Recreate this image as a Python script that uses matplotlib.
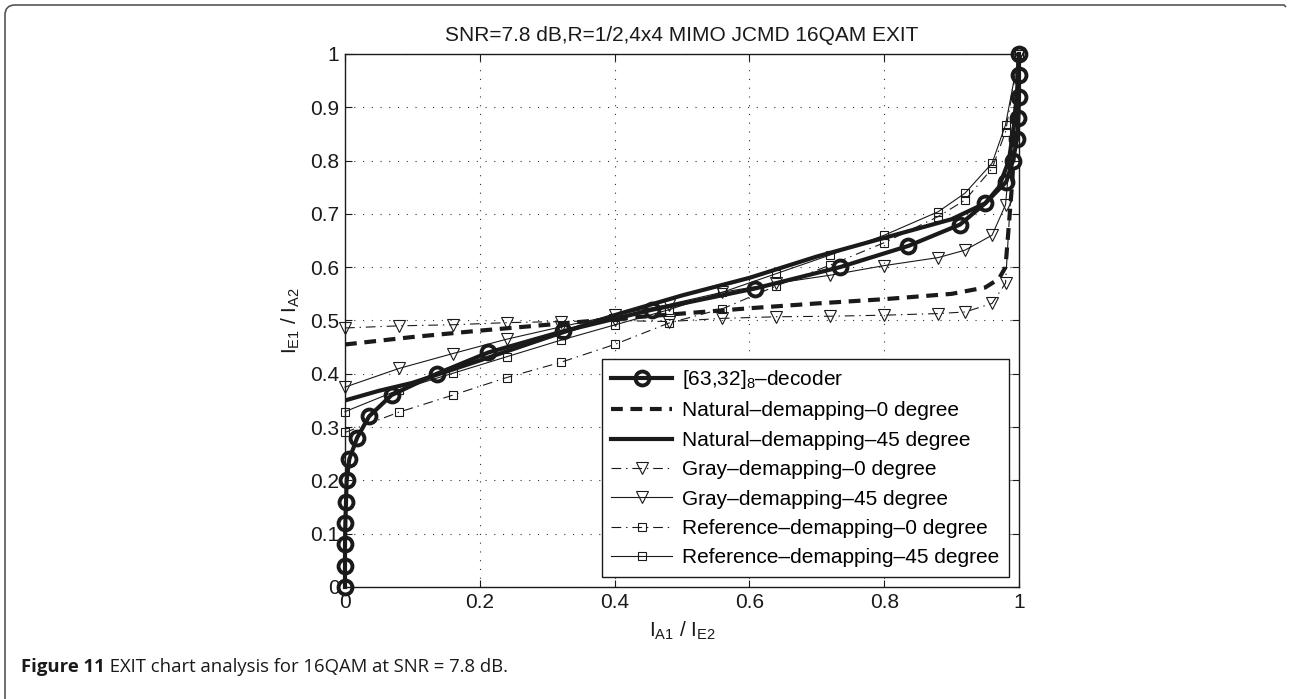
import matplotlib
matplotlib.use("Agg")
import matplotlib.pyplot as plt
from matplotlib.path import Path
from matplotlib.patches import PathPatch

# ---------------- data ----------------
title = "SNR=7.8 dB,R=1/2,4x4 MIMO JCMD 16QAM EXIT"
xticks = [0, 0.2, 0.4, 0.6, 0.8, 1]
xticklabels = ["0", "0.2", "0.4", "0.6", "0.8", "1"]
yticks = [0, 0.1, 0.2, 0.3, 0.4, 0.5, 0.6, 0.7, 0.8, 0.9, 1]
yticklabels = ["0", "0.1", "0.2", "0.3", "0.4", "0.5", "0.6", "0.7", "0.8", "0.9", "1"]

dec_y = [0, 0.04, 0.08, 0.12, 0.16, 0.20, 0.24, 0.28, 0.32, 0.36, 0.40, 0.44, 0.48,
         0.52, 0.56, 0.60, 0.64, 0.68, 0.72, 0.76, 0.80, 0.84, 0.88, 0.92, 0.96, 1.0]
dec_x = [0, 0, 0, 0.0005, 0.0015, 0.0025, 0.0064, 0.018, 0.0356, 0.069, 0.136, 0.2126, 0.324,
         0.455, 0.608, 0.734, 0.836, 0.9125, 0.95, 0.981, 0.991, 0.997, 0.999, 1.0, 1.0, 1.0]

nat0_x = [0, 0.1, 0.2, 0.3, 0.4, 0.5, 0.6, 0.7, 0.8, 0.9, 0.95, 0.97, 0.98, 0.985, 0.99, 1.0]
nat0_y = [0.455, 0.469, 0.481, 0.492, 0.503, 0.513, 0.523, 0.532, 0.540, 0.550, 0.562, 0.578,
          0.600, 0.680, 0.760, 1.0]

nat45_x = [0, 0.05, 0.1, 0.2, 0.3, 0.4, 0.5, 0.6, 0.7, 0.8, 0.9, 0.95, 0.97, 0.985, 0.993, 0.998, 1.0]
nat45_y = [0.35, 0.368, 0.383, 0.425, 0.468, 0.51, 0.547, 0.58, 0.62, 0.655, 0.69, 0.72, 0.75,
           0.80, 0.87, 0.94, 1.0]

gray_x = [0, 0.08, 0.16, 0.24, 0.32, 0.40, 0.48, 0.56, 0.64, 0.72, 0.80, 0.88, 0.92, 0.96, 0.98, 1.0]
gray0_y = [0.486, 0.49, 0.492, 0.496, 0.498, 0.50, 0.498, 0.504, 0.507, 0.508, 0.51, 0.513,
           0.516, 0.532, 0.57, 1.0]
gray45_y = [0.375, 0.41, 0.438, 0.465, 0.488, 0.51, 0.53, 0.553, 0.57, 0.585, 0.603, 0.618,
            0.632, 0.66, 0.717, 1.0]

ref_x = [0, 0.08, 0.16, 0.24, 0.32, 0.40, 0.48, 0.56, 0.64, 0.72, 0.80, 0.88, 0.92, 0.96, 0.98, 1.0]
ref0_y = [0.29, 0.328, 0.36, 0.393, 0.4215, 0.455, 0.495, 0.522, 0.565, 0.604, 0.646, 0.695,
          0.726, 0.785, 0.854, 1.0]
ref45_y = [0.329, 0.37, 0.401, 0.432, 0.463, 0.4916, 0.52, 0.553, 0.588, 0.623, 0.66, 0.704,
           0.739, 0.795, 0.867, 1.0]

labels = [r"[63,32]$_{8}$–decoder",
          "Natural–demapping–0 degree",
          "Natural–demapping–45 degree",
          "Gray–demapping–0 degree",
          "Gray–demapping–45 degree",
          "Reference–demapping–0 degree",
          "Reference–demapping–45 degree"]

caption_bold = "Figure 11"
caption_rest = " EXIT chart analysis for 16QAM at SNR = 7.8 dB."

# ---------------- style ----------------
plt.rcParams['font.family'] = ['Liberation Sans', 'DejaVu Sans']
plt.rcParams['mathtext.fontset'] = 'custom'
plt.rcParams['mathtext.rm'] = 'Liberation Sans'
plt.rcParams['mathtext.it'] = 'Liberation Sans'
plt.rcParams['lines.scale_dashes'] = False

FS = 15
W, H = 1289, 699
fig = plt.figure(figsize=(W / 100, H / 100), dpi=100)
ax = fig.add_axes([345 / W, 1 - 587 / H, 674 / W, 533 / H])

k = '#1a1a1a'
dashdot = (0, (7, 3.5, 1, 3.5))

ax.plot(nat0_x, nat0_y, color=k, lw=3.0, linestyle=(0, (8.5, 5.5)), label=labels[1], zorder=3)
ax.plot(nat45_x, nat45_y, color=k, lw=3.0, linestyle='-', label=labels[2], zorder=3)
ax.plot(gray_x, gray0_y, color=k, lw=0.8, linestyle=dashdot, marker='v', ms=8,
        mfc='none', mec=k, mew=0.8, label=labels[3], clip_on=False, zorder=4)
ax.plot(gray_x, gray45_y, color=k, lw=0.8, linestyle='-', marker='v', ms=8,
        mfc='none', mec=k, mew=0.8, label=labels[4], clip_on=False, zorder=4)
ax.plot(ref_x, ref0_y, color=k, lw=0.8, linestyle=dashdot, marker='s', ms=5.5,
        mfc='none', mec=k, mew=0.8, label=labels[5], clip_on=False, zorder=4)
ax.plot(ref_x, ref45_y, color=k, lw=0.8, linestyle='-', marker='s', ms=5.5,
        mfc='none', mec=k, mew=0.8, label=labels[6], clip_on=False, zorder=4)
ax.plot(dec_x, dec_y, color=k, lw=3.0, marker='o', ms=10, mfc='none', mec=k, mew=2.8,
        label=labels[0], clip_on=False, zorder=5)

ax.set_xlim(0, 1)
ax.set_ylim(0, 1)
ax.set_xticks(xticks)
ax.set_xticklabels(xticklabels)
ax.set_yticks(yticks)
ax.set_yticklabels(yticklabels)
ax.tick_params(direction='in', length=5, width=0.8, top=True, right=True,
               labelsize=FS, colors=k, pad=4)
for s in ax.spines.values():
    s.set_linewidth(1.0)
    s.set_color(k)
ax.grid(True, color='#333333', linestyle=(0, (0.8, 5.5)), linewidth=0.8)
ax.set_axisbelow(True)

ax.set_title(title, fontsize=FS, pad=9, color=k)
ax.set_xlabel(r"I$_{\mathrm{A1}}$ / I$_{\mathrm{E2}}$", fontsize=FS, labelpad=6, color=k)
ax.set_ylabel(r"I$_{\mathrm{E1}}$ / I$_{\mathrm{A2}}$", fontsize=FS, labelpad=6, color=k)

handles, labs = ax.get_legend_handles_labels()
order = [labs.index(l) for l in labels]
leg = ax.legend([handles[i] for i in order], [labs[i] for i in order],
                loc='lower right', bbox_to_anchor=(0.985, 0.019), borderaxespad=0,
                fontsize=FS, frameon=True, fancybox=False, framealpha=1,
                edgecolor=k, handlelength=2.9, handletextpad=0.5,
                labelspacing=0.5, borderpad=0.45)
leg.get_frame().set_linewidth(1.0)

# figure frame with rounded top-left corner
r = 10
verts = [(5, H), (5, r + 5), (5, 5), (5 + r, 5), (1284, 5), (1286, 7)]
codes = [Path.MOVETO, Path.LINETO, Path.CURVE3, Path.CURVE3, Path.LINETO, Path.LINETO]
verts_f = [(x / W, 1 - y / H) for x, y in verts]
fig.patches.append(PathPatch(Path(verts_f, codes), transform=fig.transFigure,
                             fill=False, edgecolor='#555555', lw=1.2))

# caption
CFS = 13.3
t1 = fig.text(21 / W, 1 - 667 / H, caption_bold, fontsize=CFS, weight='bold',
              family=['Open Sans', 'DejaVu Sans'], va='center', ha='left', color=k)
fig.canvas.draw()
bb = t1.get_window_extent()
fig.text(bb.x1 / W, 1 - 667 / H, caption_rest, fontsize=CFS,
         family=['Open Sans', 'DejaVu Sans'], va='center', ha='left', color=k)

fig.savefig("out.png", dpi=100)
